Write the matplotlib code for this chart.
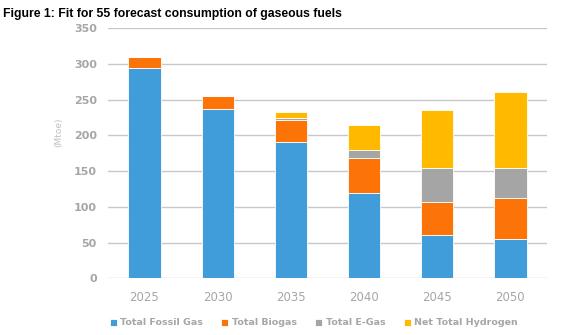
import matplotlib
matplotlib.use("Agg")
import matplotlib.pyplot as plt
import numpy as np

years = ["2025", "2030", "2035", "2040", "2045", "2050"]
fossil_gas = [294, 237, 191, 119, 60, 55]
biogas = [15, 18, 31, 50, 47, 58]
e_gas = [0, 0, 3, 10, 48, 41]
hydrogen = [0, 0, 8, 36, 81, 106]

series = [
    ("Total Fossil Gas", fossil_gas, "#419CDA"),
    ("Total Biogas", biogas, "#FC7307"),
    ("Total E-Gas", e_gas, "#A5A5A5"),
    ("Net Total Hydrogen", hydrogen, "#FFBA00"),
]

tick_grey = "#A6A6A6"

fig = plt.figure(figsize=(5.77, 3.35), dpi=100)
ax = fig.add_axes([0.187, 0.169, 0.761, 0.747])

x = np.arange(len(years))
bottom = np.zeros(len(years))
handles = []
for label, vals, color in series:
    vals = np.array(vals, dtype=float)
    h = ax.bar(x, vals, width=0.44, bottom=bottom, color=color,
               edgecolor="white", linewidth=0.6, label=label, zorder=3)
    handles.append(h)
    bottom += vals

ax.set_ylim(0, 350)
ax.set_xlim(-0.5, len(years) - 0.5)
ax.set_yticks(np.arange(0, 351, 50))
ax.set_xticks(x)
ax.set_xticklabels(years)
ax.yaxis.grid(True, color="#C8C8C8", linewidth=1.0, zorder=0)
for s in ax.spines.values():
    s.set_visible(False)
ax.tick_params(axis="both", length=0)
ax.tick_params(axis="y", colors=tick_grey, labelsize=8, pad=8)
ax.tick_params(axis="x", colors=tick_grey, labelsize=8.5, pad=9)
for t in ax.get_yticklabels():
    t.set_fontweight("bold")

# y label sits a bit above the axis middle in the original
fig.text(0.102, 0.605, "(Mtoe)", color="#C0C0C0", fontsize=6.5,
         rotation=90, ha="center", va="center")

fig.text(0.005, 0.975, "Figure 1: Fit for 55 forecast consumption of gaseous fuels",
         fontsize=8.8, fontweight="bold", family="Liberation Sans", va="top", ha="left")

leg = fig.legend(handles=handles, labels=[s[0] for s in series], loc="center",
                 bbox_to_anchor=(0.544, 0.036), ncol=4, frameon=False,
                 handlelength=0.75, handleheight=0.75, handletextpad=0.4,
                 columnspacing=1.9, fontsize=6.8)
for t in leg.get_texts():
    t.set_color(tick_grey)
    t.set_fontweight("bold")

fig.savefig("out.png", dpi=100)
